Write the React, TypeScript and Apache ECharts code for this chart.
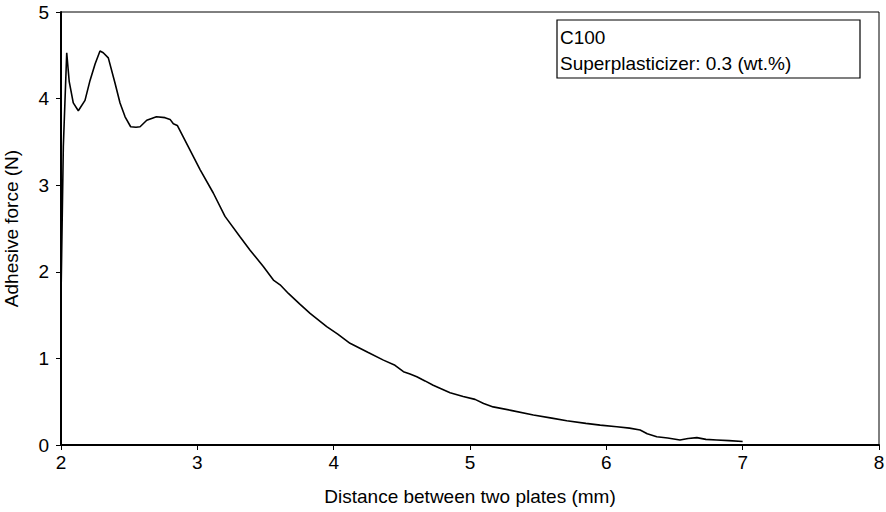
import React, { useEffect, useRef } from "react";
import * as echarts from "echarts";

const distance = [
  2.0, 2.017, 2.042, 2.06, 2.09, 2.127, 2.176, 2.213, 2.25, 2.286, 2.31, 2.347,
  2.396, 2.433, 2.47, 2.511, 2.55, 2.58, 2.629, 2.7, 2.763, 2.8, 2.824, 2.853,
  2.922, 3.02, 3.117, 3.203, 3.313, 3.387, 3.484, 3.558, 3.607, 3.668, 3.75,
  3.827, 3.949, 4.03, 4.12, 4.25, 4.365, 4.45, 4.512, 4.56, 4.61, 4.67, 4.73,
  4.854, 4.95, 5.037, 5.1, 5.17, 5.3, 5.465, 5.6, 5.71, 5.85, 5.955, 6.077,
  6.17, 6.248, 6.3, 6.37, 6.45, 6.54, 6.6, 6.664, 6.73, 6.81, 6.9, 7.0,
];
const force = [
  1.7, 3.44, 4.53, 4.2, 3.95, 3.86, 3.98, 4.21, 4.4, 4.55, 4.53, 4.47, 4.18,
  3.95, 3.79, 3.675, 3.67, 3.675, 3.75, 3.79, 3.78, 3.76, 3.71, 3.69, 3.48,
  3.18, 2.91, 2.64, 2.405, 2.25, 2.06, 1.905, 1.85, 1.75, 1.63, 1.52, 1.366,
  1.28, 1.174, 1.07, 0.98, 0.92, 0.846, 0.82, 0.789, 0.74, 0.69, 0.604, 0.56,
  0.527, 0.48, 0.44, 0.4, 0.346, 0.31, 0.28, 0.25, 0.23, 0.21, 0.195, 0.173,
  0.13, 0.096, 0.08, 0.058, 0.075, 0.085, 0.065, 0.058, 0.05, 0.04,
];
const annotationLines = ["C100", "Superplasticizer: 0.3 (wt.%)"];
const xTitle = "Distance between two plates (mm)";
const yTitle = "Adhesive force (N)";

const FONT = "'Liberation Sans', Arial, sans-serif";

export default function App() {
  const ref = useRef<HTMLDivElement>(null);
  useEffect(() => {
    if (!ref.current) return;
    const chart = echarts.init(ref.current, null, { renderer: "svg" });
    chart.setOption({
      animation: false,
      backgroundColor: "#fff",
      grid: {
        left: 61,
        top: 12,
        right: 7,
        bottom: 67,
        show: true,
        borderColor: "#000",
        borderWidth: 1,
        outerBoundsMode: "none",
        containLabel: false,
      },
      xAxis: {
        type: "value",
        min: 2,
        max: 8,
        interval: 1,
        name: xTitle,
        nameLocation: "middle",
        nameGap: 42,
        nameTextStyle: { fontFamily: FONT, fontSize: 19, color: "#000" },
        axisLine: { lineStyle: { color: "#000", width: 2 } },
        axisTick: { show: true, length: 5, lineStyle: { color: "#000", width: 1 } },
        axisLabel: { fontFamily: FONT, fontSize: 19, color: "#000", margin: 8 },
        splitLine: { show: false },
      },
      yAxis: {
        type: "value",
        min: 0,
        max: 5,
        interval: 1,
        name: yTitle,
        nameLocation: "middle",
        nameGap: 40,
        nameTextStyle: { fontFamily: FONT, fontSize: 19, color: "#000" },
        axisLine: { show: true, lineStyle: { color: "#000", width: 2 } },
        axisTick: { show: true, length: 5, lineStyle: { color: "#000", width: 1 } },
        axisLabel: { fontFamily: FONT, fontSize: 19, color: "#000", margin: 12 },
        splitLine: { show: false },
      },
      series: [
        {
          type: "line",
          data: distance.map((d, i) => [d, force[i]]),
          showSymbol: false,
          lineStyle: { color: "#000", width: 1.6 },
          smooth: false,
        },
      ],
      graphic: [
        {
          type: "rect",
          shape: { x: 557, y: 20, width: 303, height: 58 },
          style: { fill: "#fff", stroke: "#000", lineWidth: 1.2 },
          z: 100,
        },
        {
          type: "text",
          x: 560,
          y: 37,
          style: {
            text: annotationLines[0],
            fontFamily: FONT,
            fontSize: 19,
            fill: "#000",
            verticalAlign: "middle",
          },
          z: 101,
        },
        {
          type: "text",
          x: 560,
          y: 63,
          style: {
            text: annotationLines[1],
            fontFamily: FONT,
            fontSize: 19,
            fill: "#000",
            verticalAlign: "middle",
          },
          z: 101,
        },
      ],
    });
    return () => chart.dispose();
  }, []);
  return <div ref={ref} style={{ width: 886, height: 512, position: "absolute", left: 0, top: 0 }} />;
}
